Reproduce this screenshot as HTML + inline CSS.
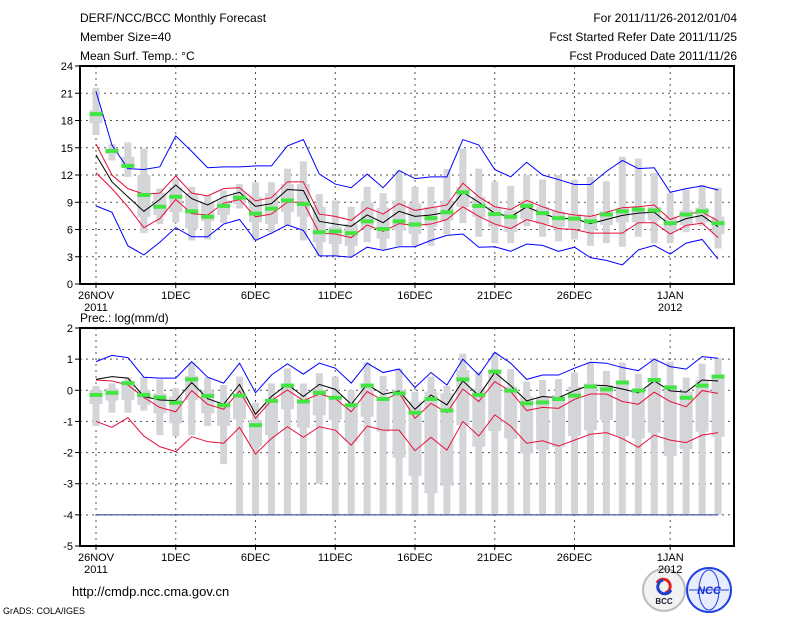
<!DOCTYPE html>
<html><head><meta charset="utf-8"><style>
body{margin:0;background:#fff;width:800px;height:618px;overflow:hidden}
svg{display:block;font-family:"Liberation Sans",sans-serif}
</style></head><body>
<svg id="c" width="800" height="618" viewBox="0 0 800 618" xmlns="http://www.w3.org/2000/svg">
<g font-size="12" fill="#000">
<text x="80" y="22">DERF/NCC/BCC Monthly Forecast</text>
<text x="80" y="41">Member Size=40</text>
<text x="80" y="60">Mean Surf. Temp.: °C</text>
<text x="737" y="22" text-anchor="end">For 2011/11/26-2012/01/04</text>
<text x="737" y="41" text-anchor="end">Fcst Started Refer Date 2011/11/25</text>
<text x="737" y="60" text-anchor="end">Fcst Produced Date 2011/11/26</text>
<text x="80" y="322">Prec.: log(mm/d)</text>
<text x="72" y="596" font-size="13">http://cmdp.ncc.cma.gov.cn</text>
<text x="3" y="614" font-size="9">GrADS: COLA/IGES</text>
</g>
<g>
<circle cx="664" cy="590" r="21" fill="#f2f2f2" stroke="#bbb" stroke-width="2"/>
<path d="M657 583 a7 7 0 1 1 8 10" fill="none" stroke="#e02020" stroke-width="3"/>
<path d="M671 590 a7 7 0 1 1 -8 -10" fill="none" stroke="#2040d0" stroke-width="3"/>
<text x="664" y="604" font-size="8" text-anchor="middle" font-weight="bold" fill="#223">BCC</text>
</g>
<g>
<circle cx="709" cy="590" r="22" fill="#e8ecff" stroke="#2040e0" stroke-width="2"/>
<ellipse cx="709" cy="590" rx="10" ry="20" fill="none" stroke="#2040e0"/>
<line x1="689" y1="590" x2="729" y2="590" stroke="#2040e0"/>
<text x="709" y="594" font-size="11" text-anchor="middle" font-style="italic" font-weight="bold" fill="#1030d0">NCC</text>
</g>
<g id="top"></g><g id="bot"></g>
</svg>
<script>
// ---- data: temperature panel ----
const days = Array.from({length:40},(_, i)=>i);
const dateTicks = [0,5,10,15,20,25,30,36];
const dateLabels = ["26NOV","1DEC","6DEC","11DEC","16DEC","21DEC","26DEC","1JAN"];
const yearLabels = ["2011","","","","","","","2012"];
const tTicks = [0,3,6,9,12,15,18,21,24];
const tMax = [21.2,15.3,12.7,12.6,12.9,16.3,14.6,12.8,12.9,12.9,13.0,13.0,15.2,15.9,12.1,11.0,10.6,12.1,10.6,12.5,11.6,11.8,11.8,15.9,15.3,12.6,11.8,13.4,12.0,11.5,10.95,10.95,12.4,13.6,12.7,12.8,10.1,10.5,10.8,10.35];
const tUp = [15.4,12.0,10.5,9.9,10.0,11.9,10.0,9.7,10.5,10.6,9.15,9.5,11.25,11.25,7.7,7.45,7.0,8.4,7.7,8.85,8.1,8.4,8.7,11.1,9.6,8.5,8.2,9.2,8.5,7.9,7.6,7.45,7.9,8.4,8.5,8.7,7.1,7.75,7.9,6.95];
const tMean = [14.2,11.25,9.6,8.0,9.3,10.9,9.4,8.7,9.6,10.1,8.55,8.85,10.4,10.3,6.9,6.6,6.35,7.6,6.75,8.0,7.45,7.6,7.9,10.1,9.0,7.8,7.4,8.5,7.75,7.2,7.2,6.65,7.1,7.55,7.8,7.9,6.5,7.2,7.55,6.3];
const tLo = [12.25,10.5,8.5,6.2,7.2,9.3,7.75,7.6,8.9,9.3,7.4,7.7,9.0,9.0,5.6,5.5,5.1,6.5,5.8,6.65,6.45,6.6,7.1,8.5,7.45,6.6,6.1,7.1,6.65,6.1,6.0,5.6,5.6,5.6,6.75,6.75,5.5,6.45,6.7,5.1];
const tMin = [8.6,7.9,4.2,3.2,4.6,6.2,5.2,5.2,6.6,7.1,4.8,5.6,6.5,5.9,3.1,3.1,2.95,4.05,3.7,4.1,4.1,4.8,5.35,5.5,4.05,4.1,3.6,4.4,4.25,3.6,4.05,2.9,2.6,2.1,3.75,4.25,3.3,4.5,4.9,2.75];
const tObs = [18.7,14.65,13.0,9.8,8.5,9.6,8.0,7.4,8.6,9.5,7.75,8.3,9.2,8.8,5.7,5.8,5.6,6.9,6.05,6.9,6.55,7.25,7.9,10.1,8.6,7.7,7.4,8.6,7.8,7.25,7.2,6.9,7.65,8.0,8.2,8.1,6.7,7.65,8.0,6.7];
const tRngHi = [21.6,15.4,15.6,14.9,10.5,11.6,10.7,9.8,10.3,11.0,11.2,11.2,12.7,13.5,9.9,9.2,8.5,10.7,10.0,12.5,10.7,10.7,12.65,14.9,12.7,11.3,10.8,12.0,11.5,12.0,11.5,11.8,11.3,14.0,13.8,12.2,10.0,10.4,10.9,10.6];
const tRngLo = [16.4,13.6,11.8,5.6,6.6,6.75,4.8,4.9,6.7,8.3,4.8,5.7,6.5,4.8,3.1,3.1,3.1,4.6,3.8,4.2,4.2,4.2,5.5,6.7,5.2,4.5,4.5,6.35,5.2,4.7,4.9,4.2,4.5,4.1,5.2,4.5,4.5,5.7,6.4,3.9];
const tBoxHi = [19.1,14.9,14.0,12.0,10.0,10.7,10.0,9.0,9.2,10.1,9.6,10.0,11.0,11.0,8.5,6.3,6.6,9.0,8.4,9.2,8.9,8.5,9.2,10.7,9.6,8.5,8.1,9.2,8.5,8.0,7.7,7.5,8.0,8.4,8.4,8.5,7.4,8.1,8.4,7.4];
const tBoxLo = [17.7,14.3,12.9,7.4,7.6,7.9,6.1,6.9,7.6,8.8,6.8,6.6,7.9,7.4,4.6,4.4,4.2,6.0,5.0,5.9,5.5,6.3,7.0,8.5,7.4,6.3,5.7,7.1,6.6,6.3,6.1,5.9,6.5,6.8,6.8,7.0,5.9,6.5,6.8,5.5];
// ---- data: precipitation panel ----
const pTicks = [-5,-4,-3,-2,-1,0,1,2];
const pMax = [0.92,1.12,1.05,0.42,0.39,0.39,0.92,0.42,0.23,0.87,-0.08,0.49,0.85,0.52,0.87,0.71,0.23,0.87,0.57,0.68,0.09,0.57,0.17,1.0,0.49,1.22,0.87,0.35,0.49,0.49,0.71,0.9,0.87,0.73,0.63,1.0,0.76,0.68,1.08,1.03];
const pMean = [0.35,0.44,0.39,-0.2,-0.31,-0.33,0.25,-0.27,-0.45,0.19,-0.77,-0.2,0.19,-0.2,0.19,0.03,-0.45,0.19,-0.13,-0.02,-0.61,-0.15,-0.47,0.3,-0.17,0.57,0.15,-0.34,-0.2,-0.24,-0.01,0.17,0.15,0.04,-0.08,0.3,-0.02,-0.06,0.33,0.3];
const pUp = [0.33,0.3,0.17,-0.23,-0.55,-0.69,-0.01,-0.45,-0.61,-0.02,-0.9,-0.33,0.01,-0.33,-0.12,-0.26,-0.69,-0.04,-0.33,-0.08,-0.9,-0.42,-0.72,0.04,-0.36,0.28,-0.04,-0.65,-0.55,-0.58,-0.29,-0.12,-0.12,-0.36,-0.45,-0.06,-0.36,-0.53,-0.01,-0.1];
const pLo = [-1.0,-1.19,-0.88,-1.47,-1.81,-1.97,-1.49,-1.65,-1.7,-1.19,-2.05,-1.55,-1.17,-1.51,-1.17,-1.28,-1.76,-1.15,-1.28,-1.28,-1.94,-1.51,-1.92,-1.0,-1.47,-0.79,-1.15,-1.7,-1.62,-1.79,-1.6,-1.41,-1.36,-1.55,-1.83,-1.44,-1.6,-1.68,-1.44,-1.36];
const pObs = [-0.15,-0.08,0.23,-0.15,-0.23,-0.4,0.35,-0.18,-0.48,-0.17,-1.12,-0.34,0.15,-0.36,-0.08,-0.24,-0.48,0.15,-0.28,-0.1,-0.72,-0.28,-0.65,0.35,-0.15,0.6,-0.01,-0.42,-0.39,-0.28,-0.17,0.12,0.03,0.25,-0.01,0.33,0.09,-0.24,0.15,0.44];
const pRngHi = [0.14,0.22,0.42,0.42,0.35,0.06,0.87,0.42,0.17,0.44,-0.4,0.22,0.7,0.22,0.55,0.44,0.01,0.9,0.46,0.7,-0.04,0.44,0.14,1.17,0.6,1.21,0.68,0.28,0.33,0.36,0.57,0.89,0.62,0.89,0.53,1.03,0.92,0.41,0.85,1.03];
const pRngLo = [-1.15,-0.72,-0.72,-0.65,-1.44,-1.47,-1.44,-1.15,-2.37,-4,-4,-4,-4,-4,-3,-4,-4,-4,-4,-4,-4,-4,-4,-4,-4,-4,-4,-4,-4,-4,-4,-4,-4,-4,-4,-4,-4,-4,-4,-4];
const pBoxHi = [0,0.06,0.3,0,-0.1,-0.2,0.46,0,-0.36,-0.15,-0.95,-0.31,0.22,-0.31,0.01,-0.2,-0.42,0.22,-0.2,0.01,-0.36,-0.04,-0.1,0.65,0.06,0.65,0.12,-0.2,-0.2,-0.15,0.12,0.22,0.17,0.22,0.06,0.38,0.17,-0.04,0.33,0.49];
const pBoxLo = [-0.44,-0.33,-0.31,-0.47,-0.74,-1.06,-0.31,-0.74,-1.15,-0.94,-1.81,-1.44,-0.61,-1.2,-0.8,-0.96,-1.65,-0.85,-1.33,-2.16,-2.76,-3.3,-3.07,-1.12,-1.81,-1.31,-1.55,-2.03,-1.92,-1.82,-1.47,-1.28,-0.96,-1.47,-1.55,-1.36,-2.11,-1.89,-1.33,-1.49];

const NS="http://www.w3.org/2000/svg";
const X0=80,X1=734,D0=96,DD=15.95;
const xd=d=>D0+d*DD;
function el(parent,tag,attrs){const e=document.createElementNS(NS,tag);for(const k in attrs)e.setAttribute(k,attrs[k]);parent.appendChild(e);return e;}
function panel(g,top,bot,vmin,vmax,ticks,opt){
  const y=v=>bot-(v-vmin)/(vmax-vmin)*(bot-top);
  // grid
  ticks.forEach(t=>{
    if(t>vmin&&t<vmax){const l=el(g,'line',{x1:X0,x2:X1,y1:y(t),y2:y(t),stroke:'#555','stroke-width':1,'stroke-dasharray':'2,4'});
    
    }
    const tk=el(g,'line',{x1:X0-5,x2:X0,y1:y(t),y2:y(t),stroke:'#000'});
    
    
    const tx=el(g,'text',{x:X0-7,y:y(t)+4,'text-anchor':'end','font-size':11});
    tx.textContent=t;
    
    
  });
  dateTicks.forEach((d,i)=>{
    const l=el(g,'line',{x1:xd(d),x2:xd(d),y1:top,y2:bot,stroke:'#555','stroke-dasharray':'2,4'});
    
    
    const tk=el(g,'line',{x1:xd(d),x2:xd(d),y1:bot,y2:bot+4,stroke:'#000'});
    
    
    const tx=el(g,'text',{x:xd(d),y:bot+15,'text-anchor':'middle','font-size':11});
    tx.textContent=dateLabels[i];
    
    
    if(yearLabels[i]){const ty=el(g,'text',{x:xd(d),y:bot+27,'text-anchor':'middle','font-size':11});
    ty.textContent=yearLabels[i];
    
    }
  });
  days.forEach(d=>{
    const r=el(g,'rect',{x:xd(d)-3.5,width:7,y:y(opt.rh[d]),height:Math.max(1,y(opt.rl[d])-y(opt.rh[d])),fill:'#d4d5d9'});
    
    
    const b=el(g,'rect',{x:xd(d)-6.5,width:13,y:y(opt.bh[d]),height:Math.max(1,y(opt.bl[d])-y(opt.bl[d])+y(opt.bl[d])-y(opt.bh[d])),fill:'#d4d5d9'});
    
    
  });
  if(opt.floor!==undefined){const f=el(g,'line',{x1:xd(0),x2:xd(39),y1:y(opt.floor),y2:y(opt.floor),stroke:'#223399','stroke-width':1});
    
    }
  const line=(arr,col,name)=>{const p=el(g,'polyline',{points:arr.map((v,d)=>xd(d)+','+y(v)).join(' '),fill:'none',stroke:col,'stroke-width':1});
    
    };
  opt.lines.forEach(l=>line(l[0],l[1],l[2]));
  days.forEach(d=>{
    const o=el(g,'rect',{x:xd(d)-6.5,width:13,y:y(opt.obs[d])-2,height:4,fill:'#44e444'});
    
    
  });
  const fr=el(g,'rect',{x:X0,y:top,width:X1-X0,height:bot-top,fill:'none',stroke:'#000','stroke-width':2});
  
  
}
const gt=document.getElementById('top');


panel(gt,66,284,0,24,tTicks,{rh:tRngHi,rl:tRngLo,bh:tBoxHi,bl:tBoxLo,obs:tObs,
  lines:[[tMax,'#0000ff','max-line'],[tMin,'#0000ff','min-line'],[tUp,'#e8103a','upper-line'],[tLo,'#e8103a','lower-line'],[tMean,'#000','mean-line']]});
const gb=document.getElementById('bot');


panel(gb,328,546,-5,2,pTicks,{rh:pRngHi,rl:pRngLo,bh:pBoxHi,bl:pBoxLo,obs:pObs,floor:-4,
  lines:[[pMax,'#0000ff','max-line'],[pUp,'#e8103a','upper-line'],[pLo,'#e8103a','lower-line'],[pMean,'#000','mean-line']]});
</script>
</body></html>
